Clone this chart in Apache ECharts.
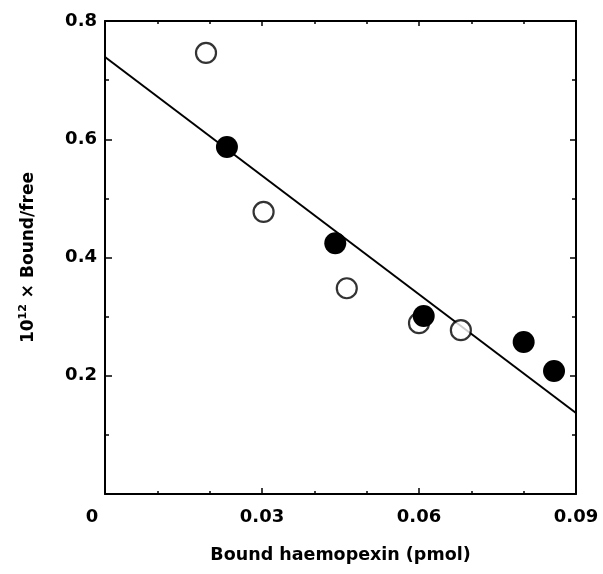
<!DOCTYPE html>
<html><head><meta charset="utf-8">
<script src="https://cdn.jsdelivr.net/npm/echarts@6/dist/echarts.min.js"></script>
<style>html,body{margin:0;padding:0;background:#fff}#c{width:603px;height:574px}</style>
</head><body><div id="c"></div>
<script>
// Open circles (one preparation)
const openPoints = [[0.0193,0.746],[0.0303,0.477],[0.0462,0.348],[0.0600,0.289],[0.0680,0.277]];
// Filled circles (other preparation)
const filledPoints = [[0.0233,0.587],[0.0440,0.424],[0.0609,0.301],[0.0800,0.257],[0.0858,0.208]];
// Fitted regression line endpoints
const fitLine = [[0,0.739],[0.09,0.137]];
const xLabels = ['0','0.03','0.06','0.09'];
const yLabels = ['0.2','0.4','0.6','0.8'];

const FONT = '"DejaVu Sans", sans-serif';
const C = '#000';
const axisBase = {
  type:'value', axisLine:{show:true,onZero:false,lineStyle:{color:C,width:2}},
  splitLine:{show:false}
};
const chart = echarts.init(document.getElementById('c'));
chart.setOption({
  animation:false,
  grid:{left:105,right:27,top:21,bottom:80},
  xAxis:[
    Object.assign({}, axisBase, {position:'bottom', min:0, max:0.09, interval:0.03,
      axisTick:{inside:true,length:6,lineStyle:{color:C,width:1.5}},
      minorTick:{show:true,splitNumber:3,length:3,lineStyle:{color:C,width:1.5}},
      axisLabel:{color:C,fontFamily:FONT,fontSize:18,fontWeight:'bold',margin:14,
        formatter:function(v){const s=xLabels.find(l=>Math.abs(parseFloat(l)-v)<1e-9); if(s==='0') return '{z|0}'; return s||'';},
        rich:{z:{fontSize:18,fontFamily:FONT,fontWeight:'bold',color:C,padding:[0,26,0,0]}}},
      name:'Bound haemopexin (pmol)', nameLocation:'middle', nameGap:52,
      nameTextStyle:{color:C,fontFamily:FONT,fontSize:17.5,fontWeight:'bold'}
    }),
    Object.assign({}, axisBase, {position:'top', min:0, max:0.09, interval:0.03,
      axisTick:{inside:true,length:5,lineStyle:{color:C,width:1.5}},
      minorTick:{show:true,splitNumber:3,length:3,lineStyle:{color:C,width:1.5}},
      axisLabel:{show:false}})
  ],
  yAxis:[
    Object.assign({}, axisBase, {position:'left', min:0, max:0.8, interval:0.2,
      axisTick:{inside:true,length:7,lineStyle:{color:C,width:1.5}},
      minorTick:{show:true,splitNumber:2,length:4,lineStyle:{color:C,width:1.5}},
      axisLabel:{color:C,fontFamily:FONT,fontSize:18,fontWeight:'bold',margin:8,
        formatter:function(v){const s=yLabels.find(l=>Math.abs(parseFloat(l)-v)<1e-9); return s||'';}},
      name:'{n|10}{s|12}{n| × Bound/free}', nameLocation:'middle', nameGap:66, nameRotate:90,
      nameTextStyle:{color:C,fontFamily:FONT,fontSize:17,fontWeight:'bold',
        rich:{n:{fontSize:17,fontFamily:FONT,fontWeight:'bold',color:C},s:{fontSize:11,fontFamily:FONT,fontWeight:'bold',color:C,verticalAlign:'top',padding:[0,0,10,0]}}}
    }),
    Object.assign({}, axisBase, {position:'right', min:0, max:0.8, interval:0.2,
      axisTick:{inside:true,length:6,lineStyle:{color:C,width:1.5}},
      minorTick:{show:true,splitNumber:2,length:4,lineStyle:{color:C,width:1.5}},
      axisLabel:{show:false}})
  ],
  series:[
    {type:'line', data:fitLine, symbol:'none', lineStyle:{color:C,width:2}, z:1},
    {type:'scatter', data:openPoints, symbol:'circle', symbolSize:20,
      itemStyle:{color:'#fff',borderColor:C,borderWidth:2.2}, z:2},
    {type:'scatter', data:filledPoints, symbol:'circle', symbolSize:22,
      itemStyle:{color:C,opacity:1}, z:3}
  ]
});
</script></body></html>
